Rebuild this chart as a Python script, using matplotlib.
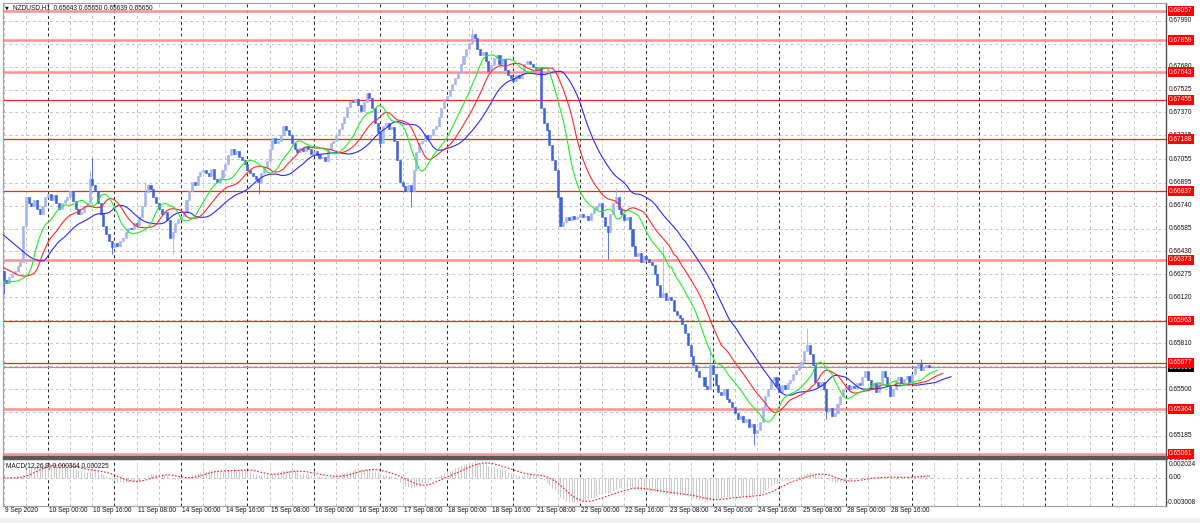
import matplotlib.pyplot as plt
import numpy as np
import pandas as pd
from matplotlib import transforms
from matplotlib.patches import Rectangle

W, H = 1200, 523

# hourly closes NZDUSD, 9 Sep 08:00 .. 28 Sep 22:00
closes = [
    0.6624, 0.6622, 0.6626, 0.6628, 0.6630, 0.6633, 0.6636, 0.6660, 0.6680, 0.6676,
    0.6674, 0.6678, 0.6672, 0.6668, 0.6674, 0.6680, 0.6682, 0.6678, 0.6681, 0.6676,
    0.6672, 0.6676, 0.6678, 0.6680, 0.6684, 0.6677, 0.6672, 0.6668, 0.6670, 0.6674,
    0.6676, 0.6692, 0.6688, 0.6684, 0.6676, 0.6668, 0.6660, 0.6655, 0.6650, 0.6646,
    0.6649, 0.6647, 0.6650, 0.6652, 0.6656, 0.6659, 0.6658, 0.6662, 0.6661, 0.6666,
    0.6674, 0.6683, 0.6688, 0.6685, 0.6680, 0.6676, 0.6672, 0.6668, 0.6670, 0.6664,
    0.6652, 0.6656, 0.6662, 0.6665, 0.6667, 0.6670, 0.6678, 0.6684, 0.6690, 0.6688,
    0.6694, 0.6697, 0.6698, 0.6696, 0.6694, 0.6699, 0.6692, 0.6690, 0.6693, 0.6698,
    0.6702, 0.6708, 0.6712, 0.6709, 0.6711, 0.6707, 0.6705, 0.6702, 0.6698, 0.6696,
    0.6694, 0.6692, 0.6690, 0.6696, 0.6700, 0.6704, 0.6712, 0.6720, 0.6716, 0.6718,
    0.6722, 0.6728, 0.6725, 0.6722, 0.6716, 0.6712, 0.6710, 0.6713, 0.6711, 0.6714,
    0.6712, 0.6709, 0.6711, 0.6708, 0.6706, 0.6707, 0.6704, 0.6712, 0.6716, 0.6718,
    0.6722, 0.6726, 0.6730, 0.6734, 0.6741, 0.6745, 0.6744, 0.6746, 0.6742, 0.6738,
    0.6744, 0.6750, 0.6747, 0.6740, 0.6730, 0.6724, 0.6716, 0.6728, 0.6730, 0.6726,
    0.6727, 0.6718, 0.6705, 0.6690, 0.6687, 0.6684, 0.6688, 0.6684, 0.6698, 0.6710,
    0.6716, 0.6718, 0.6722, 0.6720, 0.6722, 0.6726, 0.6728, 0.6734, 0.6740, 0.6746,
    0.6748, 0.6752, 0.6756, 0.6760, 0.6764, 0.6770, 0.6775, 0.6780, 0.6784, 0.6790,
    0.6787, 0.6780, 0.6776, 0.6778, 0.6772, 0.6765, 0.6769, 0.6774, 0.6776, 0.6770,
    0.6773, 0.6766, 0.6762, 0.6760, 0.6758, 0.6762, 0.6760, 0.6764, 0.6770, 0.6772,
    0.6770, 0.6768, 0.6766, 0.6768, 0.6740, 0.6730, 0.6725, 0.6715, 0.6705, 0.6698,
    0.6680, 0.6660, 0.6663, 0.6666, 0.6664, 0.6667, 0.6665, 0.6666, 0.6668, 0.6666,
    0.6667, 0.6664, 0.6669, 0.6672, 0.6674, 0.6676, 0.6666, 0.6660, 0.6656, 0.6668,
    0.6676, 0.6680, 0.6672, 0.6668, 0.6664, 0.6666, 0.6658, 0.6647, 0.6640, 0.6642,
    0.6636, 0.6640, 0.6638, 0.6636, 0.6634, 0.6628, 0.6620, 0.6612, 0.6615, 0.6610,
    0.6612, 0.6610, 0.6603, 0.6600, 0.6598, 0.6594, 0.6588, 0.6580, 0.6572, 0.6566,
    0.6562, 0.6558, 0.6558, 0.6552, 0.6550, 0.6566, 0.6560, 0.6553, 0.6548, 0.6546,
    0.6550, 0.6543, 0.6541, 0.6538, 0.6534, 0.6530, 0.6532, 0.6528, 0.6530, 0.6524,
    0.6526, 0.6520, 0.6522, 0.6528, 0.6538, 0.6545, 0.6550, 0.6556, 0.6558, 0.6552,
    0.6548, 0.6553, 0.6550, 0.6554, 0.6556, 0.6560, 0.6563, 0.6566, 0.6568, 0.6576,
    0.6580, 0.6574, 0.6566, 0.6555, 0.6552, 0.6555, 0.6550, 0.6535, 0.6537, 0.6532,
    0.6534, 0.6540, 0.6545, 0.6550, 0.6553, 0.6550, 0.6552, 0.6551, 0.6554, 0.6553,
    0.6558, 0.6562, 0.6556, 0.6550, 0.6554, 0.6548, 0.6555, 0.6562, 0.6558, 0.6552,
    0.6545, 0.6550, 0.6556, 0.6558, 0.6554, 0.6557, 0.6559, 0.6555, 0.6560, 0.6564,
    0.6567, 0.6563, 0.6565, 0.6566, 0.6565,
]
first_open = 0.6630
# wicks that stand out
spike_highs = {31: 0.6698, 32: 0.6706, 51: 0.6690, 169: 0.6794, 221: 0.6686,
               238: 0.6647, 255: 0.6579, 290: 0.6591, 331: 0.6570}
spike_lows = {0: 0.6614, 39: 0.6641, 61: 0.6641, 92: 0.6682, 136: 0.6713,
              147: 0.6673, 218: 0.6638, 271: 0.6512, 297: 0.6530}

# alligator values visible at the left edge / start seeds
jaw_start, teeth_start, lips_start = 0.6654, 0.6632, 0.6622
jaw_seed, teeth_seed, lips_seed = 0.6643, 0.6628, 0.6623

price_ticks = [0.67990, 0.67835, 0.67680, 0.67525, 0.67370, 0.67215, 0.67055,
               0.66895, 0.66740, 0.66585, 0.66430, 0.66275, 0.66120, 0.65965,
               0.65810, 0.65655, 0.65500, 0.65345, 0.65185, 0.65030]
levels_solid = [0.67455, 0.67188, 0.66837, 0.65963, 0.65677]
levels_soft = [0.68057, 0.67859, 0.67643, 0.66373, 0.65364, 0.65061]
bid = 0.65650

time_labels = ['9 Sep 2020', '10 Sep 00:00', '10 Sep 16:00', '11 Sep 08:00',
               '14 Sep 00:00', '14 Sep 16:00', '15 Sep 08:00', '16 Sep 00:00',
               '16 Sep 16:00', '17 Sep 08:00', '18 Sep 00:00', '18 Sep 16:00',
               '21 Sep 08:00', '22 Sep 00:00', '22 Sep 16:00', '23 Sep 08:00',
               '24 Sep 00:00', '24 Sep 16:00', '25 Sep 08:00', '28 Sep 00:00',
               '28 Sep 16:00']
time_label_bars = list(range(0, 16 * len(time_labels), 16))
macd_max, macd_min = 0.002024, -0.003008
macd_tick_labels = ['0.002024', '0.00', '-0.003008']

closes = np.array(closes)
n = len(closes)
idx = np.arange(n)
opens = np.concatenate([[first_open], closes[:-1]])
highs = np.maximum(opens, closes)
lows = np.minimum(opens, closes)
for k, v in spike_highs.items():
    highs[k] = v
for k, v in spike_lows.items():
    lows[k] = v


def smma(values, period, seed):
    out = np.empty(len(values))
    prev = seed
    for i, v in enumerate(values):
        prev = (prev * (period - 1) + v) / period
        out[i] = prev
    return out


median = (highs + lows) / 2
jaw = smma(median, 13, jaw_seed)
teeth = smma(median, 8, teeth_seed)
lips = smma(median, 5, lips_seed)

s = pd.Series(closes)
macd = (s.ewm(span=12, adjust=False).mean() - s.ewm(span=26, adjust=False).mean()).values
signal = pd.Series(macd).rolling(9, min_periods=1).mean().values

plt.rcParams['font.family'] = ['Liberation Sans', 'DejaVu Sans']
FS = 4.7

fig = plt.figure(figsize=(12, 5.23), dpi=100)
fig.patch.set_facecolor('white')


def fx(px):
    return px / W


def fy(px):
    return 1 - px / H


ax = fig.add_axes([fx(3), fy(456), fx(1166 - 3), (456 - 3) / H])
axm = fig.add_axes([fx(3), fy(506), fx(1166 - 3), (506 - 459) / H])
xmin, xmax = -0.25, 419.6
ax.set_xlim(xmin, xmax)
ax.set_ylim(0.65047, 0.68110)
axm.set_xlim(xmin, xmax)
# the sub window spans the MACD min .. max, as the terminal does
axm.set_ylim(macd_min, macd_max)

for a in (ax, axm):
    a.set_xticks([])
    a.set_yticks([])
    for side in ('left', 'top', 'bottom'):
        a.spines[side].set_color('#a0a0a0')
        a.spines[side].set_linewidth(0.8)
    a.spines['right'].set_color('#505050')
    a.spines['right'].set_linewidth(1.0)
    # vertical grid every 8 bars, day separators darker
    for b in range(0, int(xmax) + 1, 8):
        if (b - 16) % 24 == 0:
            a.axvline(b, color='#222222', lw=0.7, ls=(0, (3, 3)), zorder=1)
        else:
            a.axvline(b, color='#c4c4c4', lw=0.7, ls=(0, (3, 3)), zorder=1)

for p in price_ticks:
    ax.axhline(p, color='#c4c4c4', lw=0.7, ls=(0, (3, 3)), zorder=1)
axm.axhline(0, color='#c4c4c4', lw=0.7, ls=(0, (3, 3)), zorder=1)

for p in levels_soft:
    ax.axhline(p, color='#ff9090', lw=1.8, zorder=2)
for p in levels_solid:
    ax.axhline(p, color='#ff2020', lw=0.9, zorder=2)
ax.axhline(bid, color='#9a9a9a', lw=0.9, zorder=2)

# candles
up = closes >= opens
bull_c, bear_c = '#a2b4f2', '#3d64dd'
cols = np.where(up, bull_c, bear_c)
ax.vlines(idx, lows, highs, colors=cols, lw=0.6, zorder=3)
ax.bar(idx, closes - opens, bottom=opens, width=0.75, color=cols,
       edgecolor=cols, linewidth=0.4, zorder=4)

# alligator
ax.plot(np.concatenate([[0], idx + 8]), np.concatenate([[jaw_start], jaw]),
        color='#2a2aff', lw=0.8, zorder=5)
ax.plot(np.concatenate([[0], idx + 5]), np.concatenate([[teeth_start], teeth]),
        color='#ff2a2a', lw=0.8, zorder=5)
ax.plot(np.concatenate([[0], idx + 3]), np.concatenate([[lips_start], lips]),
        color='#22ee22', lw=0.8, zorder=5)

# macd
axm.vlines(idx, 0, macd, colors='#cacaca', lw=0.8, zorder=3)
axm.plot(idx, signal, color='#ff2020', lw=0.8, ls=(0, (1.5, 1.5)), zorder=4)

# right price scale
tr = transforms.blended_transform_factory(ax.transAxes, ax.transData)
lab_x = (1169 - 3) / (1166 - 3)
for p in price_ticks:
    ax.text(lab_x, p, f'{p:.5f}', transform=tr, fontsize=FS, va='center',
            ha='left', color='#111111', clip_on=False, zorder=6)
for p in levels_soft + levels_solid:
    ax.text(lab_x, p, f'{p:.5f}', transform=tr, fontsize=FS, va='center',
            ha='left', color='white', clip_on=False, zorder=8,
            bbox=dict(boxstyle='square,pad=0.22', fc='#ff0000', ec='none'))
ax.text(lab_x, bid - 0.00005, f'{bid:.5f}', transform=tr, fontsize=FS,
        va='center', ha='left', color='white', clip_on=False, zorder=7,
        bbox=dict(boxstyle='square,pad=0.22', fc='#000000', ec='none'))

# macd scale labels sit just inside the window edges
axm.text(lab_x, 0, macd_tick_labels[1], transform=transforms.blended_transform_factory(
         axm.transAxes, axm.transData), fontsize=FS, va='center', ha='left',
         color='#111111', clip_on=False)
fig.text(fx(1169), fy(465), macd_tick_labels[0], fontsize=FS, va='center',
         ha='left', color='#111111')
fig.text(fx(1167), fy(502), macd_tick_labels[2], fontsize=FS, va='center',
         ha='left', color='#111111')

# time axis
trt = transforms.blended_transform_factory(ax.transData, fig.transFigure)
for b, lab in zip(time_label_bars, time_labels):
    fig.text(b + 0.4, fy(511), lab, transform=trt, fontsize=FS,
             va='center', ha='left', color='#111111')

# panel separator and bottom strip
fig.patches.append(Rectangle((fx(3), fy(459)), fx(1164), 3 / H,
                             transform=fig.transFigure, color='#5a5a5a'))
fig.patches.append(Rectangle((0, 0), 1, 5 / H, transform=fig.transFigure,
                             color='#f0f0f0'))

fig.text(fx(5), fy(8), '\u25bc', fontsize=3.5, va='center', ha='left',
         family='DejaVu Sans', color='#111111')
fig.text(fx(13), fy(8), 'NZDUSD,H1  0.65643 0.65650 0.65639 0.65650',
         fontsize=FS, va='center', ha='left', color='#111111')
fig.text(fx(6), fy(466), 'MACD(12,26,9) 0.000364 0.000225', fontsize=FS,
         va='center', ha='left', color='#111111')

fig.savefig('out.png', dpi=100)
